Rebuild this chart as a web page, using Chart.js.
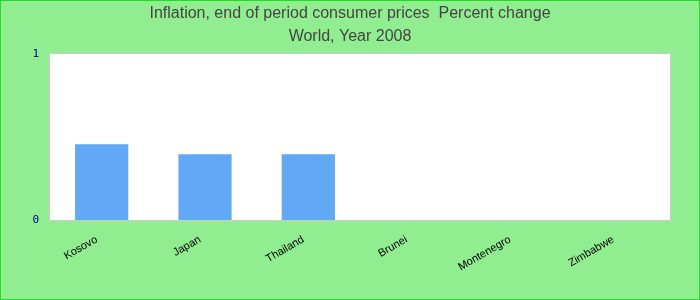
<!DOCTYPE html>
<html><head><meta charset="utf-8">
<script src="https://cdn.jsdelivr.net/npm/chart.js@4"></script>
<style>html,body{margin:0;padding:0;background:#90EE90;}#wrap{width:700px;height:300px;position:relative;}</style>
</head><body><div id="wrap"><canvas id="c" width="700" height="300"></canvas></div>
<script>
const categories = ["Kosovo","Japan","Thailand","Brunei","Montenegro","Zimbabwe"];
const values = [0.456, 0.396, 0.396, 0, 0, 0];
const yTicks = [0, 1];
const titleLines = ["Inflation, end of period consumer prices  Percent change","World, Year 2008"];

const bgPlugin = {
  id:'bg',
  beforeDraw(chart){
    const {ctx, chartArea:a} = chart;
    ctx.save();
    ctx.fillStyle='#90EE90'; ctx.fillRect(0,0,chart.width,chart.height);
    ctx.fillStyle='#ffffff'; ctx.fillRect(a.left,a.top,a.right-a.left,a.bottom-a.top);
    ctx.restore();
  },
  afterDraw(chart){
    const {ctx, chartArea:a} = chart;
    ctx.save();
    ctx.strokeStyle='#cccccc'; ctx.lineWidth=1;
    ctx.strokeRect(Math.round(a.left)-0.5,Math.round(a.top)-0.5,Math.round(a.right-a.left)+1,Math.round(a.bottom-a.top)+1);
    ctx.strokeStyle='#22dd22';
    ctx.strokeRect(0.5,0.5,chart.width-1,chart.height-1);
    ctx.restore();
  }
};

new Chart(document.getElementById('c'),{
  type:'bar',
  data:{labels:categories,datasets:[{data:values,backgroundColor:'#61A9F5',borderWidth:0,categoryPercentage:1,barPercentage:0.515}]},
  options:{
    responsive:false,animation:false,devicePixelRatio:1,
    layout:{padding:0},
    plugins:{legend:{display:false},tooltip:{enabled:false},
      title:{display:true,text:titleLines,color:'#444444',font:{family:'Liberation Sans, Arial',size:16,weight:'normal',lineHeight:'23px'},padding:{top:2,bottom:6}}},
    scales:{
      x:{grid:{display:false,drawTicks:false},border:{display:false},
        ticks:{color:'#000',font:{family:'Liberation Sans, Arial',size:11},minRotation:30,maxRotation:30,padding:13,labelOffset:-5,autoSkip:false},
        afterFit(s){s.height=80;}},
      y:{min:0,max:1,grid:{display:false,drawTicks:false},border:{display:false},
        afterBuildTicks(s){s.ticks=yTicks.map(v=>({value:v}));},
        ticks:{color:'#00008B',font:{family:'DejaVu Sans Mono, monospace',size:11},padding:11},
        afterFit(s){s.width=50;}},
      yr:{position:'right',display:true,grid:{display:false,drawTicks:false},border:{display:false},
        ticks:{display:false},afterFit(s){s.width=30;}}
    }
  },
  plugins:[bgPlugin]
});
</script></body></html>
